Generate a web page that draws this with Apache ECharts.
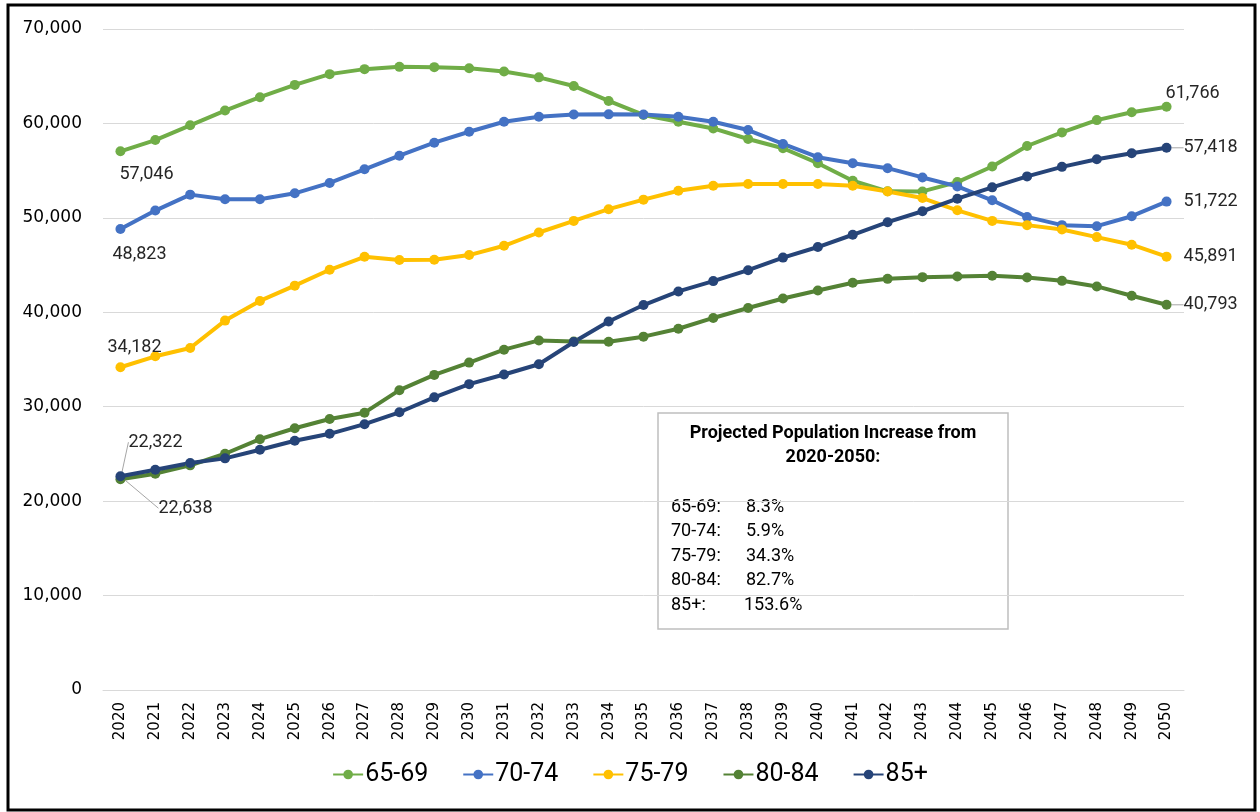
<!DOCTYPE html>
<html>
<head>
<meta charset="utf-8">
<script src="https://cdn.jsdelivr.net/npm/echarts@6/dist/echarts.min.js"></script>
<style>
  html, body { margin: 0; padding: 0; background: #fff; }
  #main { width: 1260px; height: 812px; }
</style>
</head>
<body>
<div id="main"></div>
<script>
// 年份和各年龄组人口数据
var years = [];
for (var y = 2020; y <= 2050; y++) years.push(String(y));

var age6569 = [57046, 58240, 59800, 61360, 62780, 64080, 65220, 65750, 65990, 65960, 65840, 65500, 64880, 63970, 62380, 60900, 60180, 59470, 58350, 57370, 55790, 53930, 52810, 52800, 53790, 55440, 57610, 59050, 60350, 61190, 61766];
var age7074 = [48823, 50770, 52460, 51970, 51970, 52600, 53700, 55140, 56580, 57960, 59120, 60180, 60700, 60950, 60960, 60950, 60700, 60175, 59300, 57825, 56420, 55790, 55260, 54280, 53330, 51860, 50100, 49230, 49120, 50175, 51722];
var age7579 = [34182, 35340, 36220, 39120, 41200, 42820, 44500, 45880, 45530, 45560, 46060, 47040, 48450, 49680, 50920, 51930, 52877, 53400, 53580, 53580, 53580, 53400, 52800, 52100, 50800, 49680, 49230, 48770, 47960, 47160, 45891];
var age8084 = [22322, 22910, 23790, 25020, 26560, 27720, 28700, 29370, 31750, 33370, 34670, 36040, 37020, 36900, 36880, 37420, 38260, 39400, 40450, 41460, 42300, 43120, 43540, 43720, 43790, 43860, 43680, 43330, 42740, 41750, 40793];
var age85up = [22638, 23330, 24030, 24530, 25440, 26390, 27130, 28150, 29410, 30990, 32390, 33410, 34500, 36850, 39030, 40770, 42210, 43300, 44460, 45790, 46910, 48210, 49540, 50700, 52030, 53230, 54390, 55400, 56210, 56840, 57418];

var increaseLabels = ['65-69:', '70-74:', '75-79:', '80-84:', '85+:'];
var increaseValues = ['8.3%', '5.9%', '34.3%', '82.7%', '153.6%'];

var labelFont = 'Roboto, sans-serif';
function fmt(v) { return Number(v).toLocaleString('en-US'); }

// 只显示首尾两个数据标签
function endLabels(arr, first, last) {
    return arr.map(function (v, i) {
        if (i === 0 && first) return { value: v, label: Object.assign({ show: true }, first) };
        if (i === arr.length - 1 && last) return { value: v, label: Object.assign({ show: true }, last) };
        return v;
    });
}

function makeSeries(name, color, data, first, last, extra) {
    var s = {
        name: name,
        type: 'line',
        symbol: 'circle',
        symbolSize: 10,
        color: color,
        lineStyle: { width: 4, color: color },
        itemStyle: { color: color },
        label: {
            show: false,
            color: '#262626',
            fontFamily: labelFont,
            fontSize: 18,
            formatter: function (p) { return fmt(p.value); }
        },
        emphasis: { disabled: true },
        data: endLabels(data, first, last)
    };
    return Object.assign(s, extra || {});
}

var myChart = echarts.init(document.getElementById('main'));

// 右下方的说明框
var boxX = 658, boxY = 413;
var boxChildren = [{
    type: 'rect',
    shape: { x: 0, y: 0, width: 350, height: 216 },
    style: { fill: '#fff', stroke: '#BFBFBF', lineWidth: 1.5 }
}, {
    type: 'text', x: 175, y: 20,
    style: { text: 'Projected Population Increase from', fontFamily: labelFont, fontWeight: 'bold', fontSize: 18, fill: '#000', align: 'center', verticalAlign: 'middle' }
}, {
    type: 'text', x: 175, y: 44,
    style: { text: '2020-2050:', fontFamily: labelFont, fontWeight: 'bold', fontSize: 18, fill: '#000', align: 'center', verticalAlign: 'middle' }
}];
increaseLabels.forEach(function (t, i) {
    boxChildren.push({
        type: 'text', x: 13, y: 94 + i * 24.5,
        style: { text: t, fontFamily: labelFont, fontSize: 18, fill: '#000', verticalAlign: 'middle' }
    });
    boxChildren.push({
        type: 'text', x: i === 4 ? 86 : 88, y: 94 + i * 24.5,
        style: { text: increaseValues[i], fontFamily: labelFont, fontSize: 18, fill: '#000', verticalAlign: 'middle' }
    });
});

var option = {
    backgroundColor: '#fff',
    animation: false,
    grid: { left: 103, right: 76, top: 29, bottom: 122, containLabel: false },
    legend: {
        bottom: 20,
        left: 'center',
        itemWidth: 30,
        itemHeight: 12,
        itemGap: 34,
        textStyle: { fontFamily: labelFont, fontSize: 25, color: '#000', padding: [0, 0, 0, -3] },
        data: ['65-69', '70-74', '75-79', '80-84', '85+']
    },
    xAxis: {
        type: 'category',
        data: years,
        boundaryGap: true,
        axisLine: { show: true, lineStyle: { color: '#D9D9D9' } },
        axisTick: { show: false },
        axisLabel: { rotate: 90, margin: 12, color: '#000', fontFamily: 'DejaVu Sans', fontSize: 15, interval: 0 }
    },
    yAxis: {
        type: 'value',
        min: 0,
        max: 70000,
        interval: 10000,
        axisLine: { show: false },
        axisTick: { show: false },
        splitLine: { lineStyle: { color: '#D9D9D9', width: 1 } },
        axisLabel: { margin: 21, color: '#000', fontFamily: 'DejaVu Sans', fontSize: 17, formatter: fmt }
    },
    series: [
        makeSeries('65-69', '#70AD47', age6569,
            { position: 'bottom', align: 'left', offset: [-1, 4] },
            { position: 'top', align: 'left', offset: [-1, 6] }),
        makeSeries('70-74', '#4472C4', age7074,
            { position: 'bottom', align: 'left', offset: [-8, 7] },
            { position: 'right', offset: [7, 0] }),
        makeSeries('75-79', '#FFC000', age7579,
            { position: 'top', align: 'left', offset: [-13, -1] },
            { position: 'right', offset: [7, 0] }),
        makeSeries('80-84', '#548235', age8084,
            { position: 'right' },
            { position: 'right' }, {
                labelLayout: function (p) {
                    if (p.dataIndex === 0) return { dx: -2, dy: -37 };
                    return { dx: 7 };
                },
                labelLine: { show: true, lineStyle: { color: '#A6A6A6', width: 1 } }
            }),
        makeSeries('85+', '#264478', age85up,
            { position: 'right' },
            { position: 'right' }, {
                labelLayout: function (p) {
                    if (p.dataIndex === 0) return { dx: 28, dy: 32 };
                    return { dx: 7 };
                },
                labelLine: { show: true, lineStyle: { color: '#A6A6A6', width: 1 } }
            })
    ],
    graphic: [{
        type: 'rect',
        shape: { x: 8, y: 5, width: 1247, height: 805 },
        style: { fill: 'none', stroke: '#000', lineWidth: 3 },
        z: 100
    }, {
        type: 'group',
        x: boxX,
        y: boxY,
        z: 50,
        children: boxChildren
    }]
};

myChart.setOption(option);
</script>
</body>
</html>
